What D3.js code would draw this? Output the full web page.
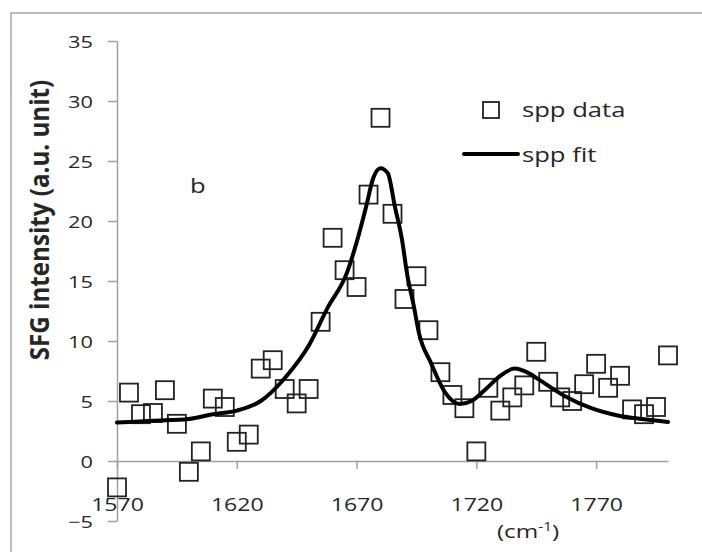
<!DOCTYPE html>
<html>
<head>
<meta charset="utf-8">
<title>spp SFG spectrum</title>
<script src="https://d3js.org/d3.v7.min.js"></script>
<style>
body { margin: 0; background: #fff; }
svg text { font-family: "Open Sans", sans-serif; fill: #262626; }
</style>
</head>
<body>
<script>
// measured points, one every 5 cm-1
var dataX = [1570,1575,1580,1585,1590,1595,1600,1605,1610,1615,1620,1625,1630,1635,1640,1645,
             1650,1655,1660,1665,1670,1675,1680,1685,1690,1695,1700,1705,1710,1715,1720,1725,
             1730,1735,1740,1745,1750,1755,1760,1765,1770,1775,1780,1785,1790,1795,1800];
var dataY = [-2.2,5.7,3.9,4.0,5.9,3.1,-0.9,0.8,5.2,4.5,1.6,2.2,7.7,8.4,6.0,4.8,
             6.0,11.6,18.6,15.9,14.5,22.2,28.6,20.6,13.5,15.4,10.9,7.4,5.5,4.4,0.8,6.1,
             4.2,5.3,6.3,9.1,6.6,5.3,5.0,6.4,8.1,6.1,7.1,4.3,3.9,4.5,8.8];

// fit curve
var fitX = [1570,1585,1600,1610,1620,1630,1640,1650,1658,1666,1670,1674,1677,1680,1683,1686,
            1689,1691,1694,1696,1701,1707,1713,1718,1724,1730,1736,1742,1746,1757,1768,1780,1789,1800];
var fitY = [3.2,3.35,3.5,3.9,4.2,5.0,6.9,9.6,12.8,15.7,18.2,21.2,23.6,24.4,24.0,21.2,
            18.4,15.7,12.8,10.7,8.2,5.7,4.75,5.0,6.0,7.1,7.7,7.3,6.8,5.4,4.4,3.75,3.5,3.25];

var xTicks = [1570,1620,1670,1720,1770];
var yTicks = [-5,0,5,10,15,20,25,30,35];
var legendLabels = ["spp data", "spp fit"];

var W = 702, H = 552;
var stretch = "scale(1.28,1)";

var svg = d3.select("body").append("svg")
    .attr("width", W).attr("height", H);

// outer frame
svg.append("rect")
    .attr("x", 11).attr("y", 13)
    .attr("width", 720).attr("height", 560)
    .attr("fill", "none").attr("stroke", "#a6a6a6").attr("stroke-width", 1.5);

var x = d3.scaleLinear().domain([1570, 1800]).range([117, 668]);
var y = d3.scaleLinear().domain([-5, 35]).range([521, 41]);

// y axis
var gy = svg.append("g")
    .attr("transform", "translate(" + x(1570) + ",0)")
    .call(d3.axisLeft(y).tickValues(yTicks).tickSize(9).tickSizeOuter(0));
gy.selectAll("text")
    .attr("x", 0).attr("dy", "0.36em")
    .attr("transform", "translate(-24,0) " + stretch)
    .style("font-size", "17px");

// x axis crossing at zero
var gx = svg.append("g")
    .attr("transform", "translate(0," + y(0) + ")")
    .call(d3.axisBottom(x).tickValues(xTicks).tickSize(8).tickSizeOuter(0)
        .tickFormat(d3.format("d")));
gx.selectAll("text")
    .attr("y", 37)
    .attr("transform", stretch)
    .style("font-size", "18px");

svg.selectAll(".domain, .tick line")
    .attr("stroke", "#a0a0a0").attr("stroke-width", 1.5);
svg.selectAll(".tick text").attr("fill", "#262626");

// data squares
var sq = 18;
svg.append("g").selectAll("rect")
    .data(dataX.map(function(d, i) { return [d, dataY[i]]; }))
    .enter().append("rect")
    .attr("x", function(d) { return x(d[0]) - sq / 2; })
    .attr("y", function(d) { return y(d[1]) - sq / 2; })
    .attr("width", sq).attr("height", sq)
    .attr("fill", "none").attr("stroke", "#222").attr("stroke-width", 1.8);

// fit line
var line = d3.line()
    .x(function(d) { return x(d[0]); })
    .y(function(d) { return y(d[1]); })
    .curve(d3.curveMonotoneX);
svg.append("path")
    .datum(fitX.map(function(d, i) { return [d, fitY[i]]; }))
    .attr("d", line)
    .attr("fill", "none").attr("stroke", "#000").attr("stroke-width", 4)
    .attr("stroke-linejoin", "round").attr("stroke-linecap", "round");

// y label
svg.append("text")
    .attr("transform", "translate(49,220) rotate(-90) scale(1.15,1.27)")
    .attr("text-anchor", "middle")
    .style("font-size", "21px").style("font-weight", "bold")
    .text("SFG intensity (a.u. unit)");

// panel letter
svg.append("text")
    .attr("transform", "translate(190,193) " + stretch)
    .style("font-size", "20px")
    .text("b");

// x unit
var unit = svg.append("text")
    .attr("transform", "translate(528,538) " + stretch)
    .attr("text-anchor", "middle")
    .style("font-size", "19px");
unit.append("tspan").text("(cm");
unit.append("tspan").attr("dy", -7).style("font-size", "12px").text("-1");
unit.append("tspan").attr("dy", 7).text(")");

// legend
var lg = svg.append("g");
lg.append("rect")
    .attr("x", 483).attr("y", 102).attr("width", 16).attr("height", 16)
    .attr("fill", "none").attr("stroke", "#222").attr("stroke-width", 1.8);
lg.append("line")
    .attr("x1", 464).attr("x2", 518).attr("y1", 154).attr("y2", 154)
    .attr("stroke", "#000").attr("stroke-width", 4).attr("stroke-linecap", "round");
lg.selectAll("text.leg")
    .data(legendLabels)
    .enter().append("text")
    .attr("class", "leg")
    .attr("transform", function(d, i) { return "translate(522," + (117 + i * 45) + ") " + stretch; })
    .style("font-size", "20px")
    .text(function(d) { return d; });
</script>
</body>
</html>
